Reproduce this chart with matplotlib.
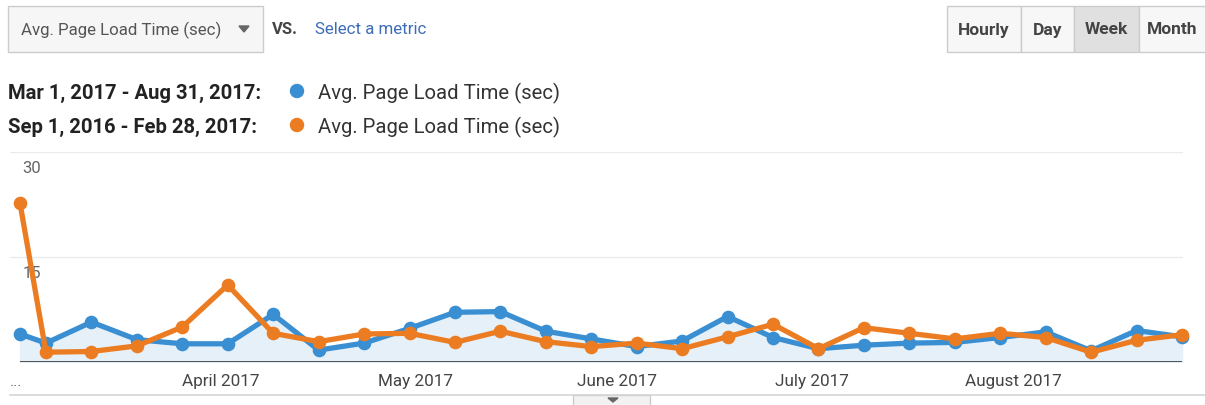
import matplotlib
matplotlib.use('Agg')
import matplotlib.pyplot as plt
from matplotlib.patches import Rectangle, Polygon, Circle
import pandas as pd

plt.rcParams['font.family'] = ['Roboto', 'DejaVu Sans']

# weekly points (first one is the partial week starting Mar 1)
dates = [pd.Timestamp('2017-03-01')] + list(pd.date_range('2017-03-05', periods=26, freq='7D'))

current = [4.0, 2.7, 5.7, 3.2, 2.6, 2.6, 6.8, 1.7, 2.7, 4.8, 7.1, 7.2, 4.4, 3.3,
           2.2, 3.0, 6.5, 3.5, 1.9, 2.4, 2.7, 2.8, 3.5, 4.3, 1.6, 4.5, 3.6]
previous = [22.7, 1.4, 1.5, 2.3, 5.0, 11.0, 4.1, 2.9, 4.0, 4.1, 2.8, 4.4, 2.9, 2.2,
            2.7, 1.9, 3.6, 5.4, 1.9, 4.9, 4.1, 3.3, 4.1, 3.5, 1.4, 3.1, 3.9]

month_ticks = pd.to_datetime(['2017-04-01', '2017-05-01', '2017-06-01', '2017-07-01', '2017-08-01'])
month_labels = ['April 2017', 'May 2017', 'June 2017', 'July 2017', 'August 2017']
y_ticks = [15, 30]

range_labels = ['Mar 1, 2017 - Aug 31, 2017:', 'Sep 1, 2016 - Feb 28, 2017:']
metric = 'Avg. Page Load Time (sec)'
periods = ['Hourly', 'Day', 'Week', 'Month']

BLUE = '#3a8fd2'
ORANGE = '#ec7c22'

W, H = 1205, 406
fig = plt.figure(figsize=(W / 100, H / 100), dpi=100)

# chart area
ax = fig.add_axes([10 / W, (H - 363) / H, 1173 / W, 210 / H])
x0 = dates[0] - pd.Timedelta(days=1.54)
x1 = dates[-1] + pd.Timedelta(days=0.15)
ax.set_xlim(x0, x1)
ax.set_ylim(0, 30)
for s in ax.spines.values():
    s.set_visible(False)

for yv in y_ticks:
    ax.axhline(yv, color='#ebebeb', lw=1, zorder=0)
    ax.annotate(str(yv), xy=(0, yv), xycoords=('axes fraction', 'data'),
                xytext=(9, -5.5), textcoords='offset points', ha='left', va='top',
                fontsize=12, color='#666666')

ax.fill_between(dates, current, 0, color='#e6f0f8', zorder=1)
ax.hlines(0, dates[0], dates[-1], color='#333333', lw=1.2, zorder=2)
ax.plot(dates, current, color=BLUE, lw=3.8, marker='o', ms=8.8, zorder=3, clip_on=False)
ax.plot(dates, previous, color=ORANGE, lw=3.8, marker='o', ms=8.8, zorder=4, clip_on=False)

ax.set_yticks([])
ax.set_xticks(month_ticks)
ax.set_xticklabels(month_labels, fontsize=12.3, color='#444444')
ax.tick_params(axis='x', length=0, pad=8)
ax.xaxis.set_minor_locator(plt.NullLocator())

# overlay in pixel coordinates for the controls around the chart
ov = fig.add_axes([0, 0, 1, 1], zorder=-1)
ov.set_xlim(0, W)
ov.set_ylim(H, 0)
ov.axis('off')

# metric dropdown
ov.add_patch(Rectangle((8, 7), 255, 46, facecolor='#f6f6f6', edgecolor='#cccccc', lw=1))
ov.text(21, 30, metric, fontsize=12.2, color='#555555', va='center', ha='left')
ov.add_patch(Polygon([(239, 27), (249, 27), (244, 33)], closed=True, color='#666666'))
ov.text(272, 29, 'VS.', fontsize=12, fontweight='bold', color='#444444', va='center')
ov.text(315, 30, 'Select a metric', fontsize=12.2, color='#3d6db8', va='center')

# period buttons
edges = [947, 1021, 1074, 1139, 1212]
for i, name in enumerate(periods):
    fc = '#e0e0e0' if name == 'Week' else '#f7f7f7'
    ov.add_patch(Rectangle((edges[i], 7), edges[i + 1] - edges[i], 46,
                           facecolor=fc, edgecolor='#cccccc', lw=1))
    ov.text((edges[i] + min(edges[i + 1], W + 8)) / 2 - (3 if i == 3 else 0), 30, name,
            fontsize=12.5, fontweight='bold', color='#444444', ha='center', va='center')

# legend
for j, (lab, col) in enumerate(zip(range_labels, [BLUE, ORANGE])):
    yy = 93 + 34 * j
    ov.text(8, yy, lab, fontsize=14.6, fontweight='bold', color='#222222', va='center')
    ov.add_patch(Circle((297, yy - 1), 6.5, color=col))
    ov.text(318, yy, metric, fontsize=14.6, color='#333333', va='center')

# bottom strip
ov.text(10, 382, '...', fontsize=11, color='#666666', va='center')
ov.plot([10, W], [396, 396], color='#d5d5d5', lw=1.2)
ov.add_patch(Rectangle((573, 396), 77, 12, facecolor='#f2f2f2', edgecolor='#cccccc', lw=1))
ov.add_patch(Polygon([(608, 399), (618, 399), (613, 403)], closed=True, color='#666666'))

fig.savefig('out.png', dpi=100)
